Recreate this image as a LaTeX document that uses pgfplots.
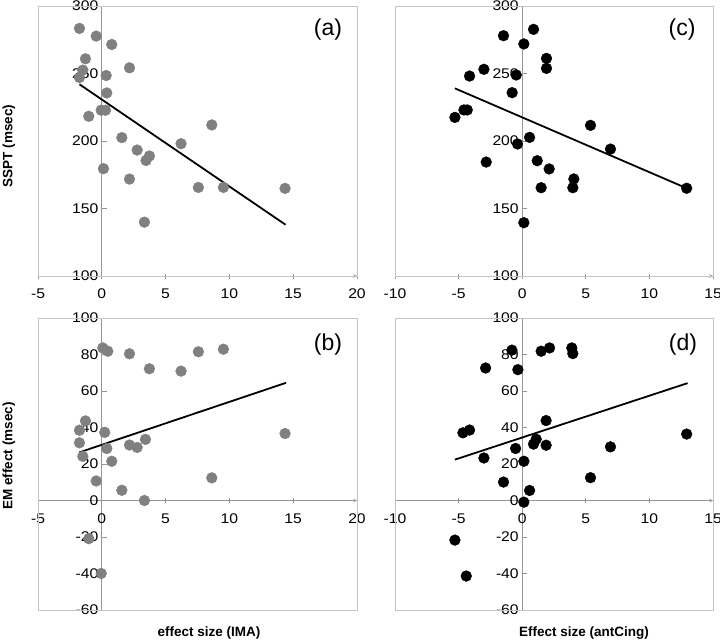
\documentclass[border=0pt]{standalone}
\usepackage{fontspec}
\setmainfont{Liberation Sans}
\newfontfamily\tickfont[FakeStretch=1.12]{Liberation Sans}
\usepackage{pgfplots}
\pgfplotsset{compat=1.18}
\definecolor{ptgray}{RGB}{128,128,128}
\definecolor{framegray}{RGB}{195,195,195}
\definecolor{axgray}{RGB}{150,150,150}
\pgfplotsset{
  panel/.style={
    scale only axis,
    anchor=north west,
    axis y line=middle,
    hide obscured x ticks=false, hide obscured y ticks=false,
    axis line style={axgray, line width=0.7pt, -},
    every inner x axis line/.append style={-},
    every inner y axis line/.append style={-},
    every outer x axis line/.append style={-},
    every outer y axis line/.append style={-},
    tick style={axgray, line width=0.7pt},
    major tick length=5pt,
    xtick align=center,
    ytick align=inside,
    every tick label/.append style={font=\tickfont\fontsize{14}{16}\selectfont, text=black},
    xticklabel style={yshift=-7pt},
    /pgf/number format/assume math mode=true,
    clip=false,
  },
  gpts/.style={only marks, mark=*, mark size=5.4pt, mark options={fill=ptgray, draw=ptgray}},
  bpts/.style={only marks, mark=*, mark size=5.4pt, mark options={fill=black, draw=black}},
  fit/.style={black, line width=1.8pt},
}
\newcommand{\frm}{\draw[framegray, line width=0.7pt] (rel axis cs:0,0) rectangle (rel axis cs:1,1);}
\begin{document}
\begin{tikzpicture}
\useasboundingbox (0,0) rectangle (720pt,-643pt);
% (a)
\begin{axis}[panel, at={(38pt,-6pt)}, width=319pt, height=270pt,
  axis x line=bottom, xmin=-5, xmax=20, ymin=100, ymax=300,
  xtick={-5,0,...,20}, ytick={100,150,...,300}]
\frm
\addplot[gpts] coordinates {
(-1.75,283.4) (-0.44,277.7) (0.78,271.5) (-1.28,260.9) (2.17,254.2)
(-1.49,252.5) (-1.75,247.0) (0.34,248.5) (0.39,235.6) (-1.02,218.3)
(-0.05,222.8) (0.29,222.8) (1.57,202.5) (2.77,193.3) (3.47,185.6)
(3.73,188.9) (6.21,198.0) (8.62,211.9) (0.13,179.5) (2.17,171.8)
(7.57,165.6) (9.53,165.6) (14.36,164.9) (3.34,139.9)};
\addplot[fit] coordinates {(-1.75,242) (14.4,138)};
\end{axis}
% (b)
\begin{axis}[panel, at={(38pt,-318pt)}, width=319pt, height=292pt,
  axis x line=middle, xmin=-5, xmax=20, ymin=-60, ymax=100,
  xtick={-5,0,...,20}, ytick={-60,-40,...,100}]
\frm
\addplot[gpts] coordinates {
(0.08,83.6) (0.47,81.8) (2.17,80.4) (7.57,81.5) (9.53,82.9)
(3.73,72.2) (6.21,70.9) (-1.28,43.6) (-1.75,38.5) (0.23,37.3)
(14.36,36.7) (-1.75,31.6) (3.42,33.5) (2.17,30.4) (2.77,29.1)
(0.39,28.5) (-1.49,24.2) (0.78,21.5) (-0.44,10.7) (1.57,5.6)
(8.62,12.4) (3.34,0.0) (-1.02,-20.9) (-0.05,-40.0)};
\addplot[fit] coordinates {(-1.75,26.4) (14.44,64.5)};
\end{axis}
% (c)
\begin{axis}[panel, at={(395pt,-6pt)}, width=318pt, height=270pt,
  axis x line=bottom, xmin=-10, xmax=15, ymin=100, ymax=300,
  xtick={-10,-5,...,15}, ytick={100,150,...,300}]
\frm
\addplot[bpts] coordinates {
(-1.47,278.0) (0.89,282.7) (0.13,271.9) (1.91,261.2) (1.91,253.8)
(-3.01,253.1) (-4.14,248.1) (-0.47,248.9) (-0.79,235.8) (-5.29,217.5)
(-4.58,223.0) (-4.32,223.0) (5.37,211.6) (0.58,202.7) (-0.37,197.8)
(6.94,194.0) (-2.83,184.4) (1.18,185.4) (2.12,179.3) (4.06,171.9)
(3.98,165.4) (1.49,165.4) (12.93,165.0) (0.13,139.5)};
\addplot[fit] coordinates {(-5.29,239) (12.93,165)};
\end{axis}
% (d)
\begin{axis}[panel, at={(395pt,-318pt)}, width=318pt, height=292pt,
  axis x line=middle, xmin=-10, xmax=15, ymin=-60, ymax=100,
  xtick={-10,-5,...,15}, ytick={-60,-40,...,100}]
\frm
\addplot[bpts] coordinates {
(-0.81,82.4) (1.49,81.8) (2.15,83.6) (3.90,83.6) (3.98,80.5)
(-2.88,72.6) (-0.34,71.7) (1.88,43.8) (-4.66,37.1) (-4.14,38.6)
(12.93,36.4) (1.10,33.6) (0.89,30.9) (1.88,30.3) (6.94,29.4)
(-0.52,28.5) (-3.01,23.3) (0.13,21.5) (-1.47,10.1) (0.58,5.5)
(5.37,12.5) (0.13,-0.9) (-5.29,-21.7) (-4.40,-41.4)};
\addplot[fit] coordinates {(-5.29,22.4) (13.0,64.3)};
\end{axis}
% panel letters
\node[font=\fontsize{23}{27}\selectfont] at (328pt,-30pt) {(a)};
\node[font=\fontsize{23}{27}\selectfont] at (682pt,-30pt) {(c)};
\node[font=\fontsize{23}{27}\selectfont] at (328pt,-345pt) {(b)};
\node[font=\fontsize{23}{27}\selectfont] at (683pt,-345pt) {(d)};
% axis titles
\node[font=\bfseries\fontsize{13.5}{16}\selectfont, rotate=90] at (9pt,-146pt) {SSPT (msec)};
\node[font=\bfseries\fontsize{13.5}{16}\selectfont, rotate=90] at (9pt,-456pt) {EM effect (msec)};
\node[font=\bfseries\fontsize{13.5}{16}\selectfont] at (209pt,-633pt) {effect size (IMA)};
\node[font=\bfseries\fontsize{13.5}{16}\selectfont] at (584pt,-633pt) {Effect size (antCing)};
\end{tikzpicture}
\end{document}
